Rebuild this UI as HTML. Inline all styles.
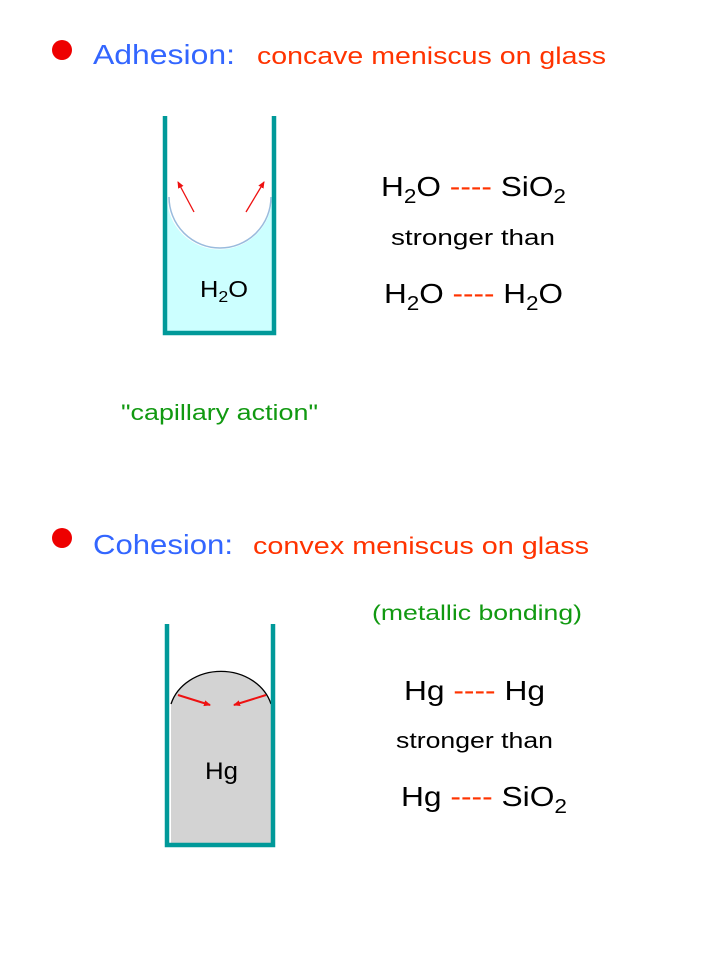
<!DOCTYPE html>
<html><head><meta charset="utf-8"><style>
html,body{margin:0;padding:0;background:#fff;}
svg{display:block;}
text{font-family:"Liberation Sans",sans-serif;}
</style></head><body>
<svg width="720" height="960" viewBox="0 0 720 960" xmlns="http://www.w3.org/2000/svg">
<defs>
<marker id="ar" markerWidth="8" markerHeight="8" refX="6" refY="3" orient="auto" markerUnits="userSpaceOnUse"><path d="M0,0 L7,3 L0,6 z" fill="#ee1111"/></marker>
</defs>
<circle cx="62" cy="50" r="10" fill="#ee0000"/>
<text x="93" y="64" font-size="28" fill="#3366ff" textLength="142" lengthAdjust="spacingAndGlyphs">Adhesion:</text>
<text x="257" y="64" font-size="24" fill="#ff3300" textLength="349" lengthAdjust="spacingAndGlyphs">concave meniscus on glass</text>
<path d="M167,197 A52,52 0 0 0 272,197 L272,331 L167,331 Z" fill="#ccffff"/>
<path d="M169,197 A51,51 0 0 0 271,197" fill="none" stroke="#99bbdd" stroke-width="1.5"/>
<path d="M165,116 L165,333 L274,333 L274,116" fill="none" stroke="#009999" stroke-width="4.5"/>
<line x1="194" y1="212" x2="178" y2="182" stroke="#ee1111" stroke-width="1.3" marker-end="url(#ar)"/>
<line x1="246" y1="212" x2="264" y2="182" stroke="#ee1111" stroke-width="1.3" marker-end="url(#ar)"/>
<text x="200" y="297" font-size="23" fill="#000" textLength="48" lengthAdjust="spacingAndGlyphs">H<tspan font-size="16" dy="5">2</tspan><tspan dy="-5">O</tspan></text>
<text x="381" y="196" font-size="28" fill="#000" textLength="185" lengthAdjust="spacingAndGlyphs">H<tspan font-size="20" dy="7">2</tspan><tspan dy="-7">O </tspan><tspan fill="#ff3300">----</tspan> SiO<tspan font-size="20" dy="7">2</tspan></text>
<text x="391" y="245" font-size="22" fill="#000" textLength="164" lengthAdjust="spacingAndGlyphs">stronger  than</text>
<text x="384" y="303" font-size="28" fill="#000" textLength="179" lengthAdjust="spacingAndGlyphs">H<tspan font-size="20" dy="7">2</tspan><tspan dy="-7">O </tspan><tspan fill="#ff3300">----</tspan> H<tspan font-size="20" dy="7">2</tspan><tspan dy="-7">O</tspan></text>
<text x="121" y="420" font-size="22" fill="#119911" textLength="197" lengthAdjust="spacingAndGlyphs">"capillary action"</text>
<circle cx="62" cy="538" r="10" fill="#ee0000"/>
<text x="93" y="554" font-size="28" fill="#3366ff" textLength="140" lengthAdjust="spacingAndGlyphs">Cohesion:</text>
<text x="253" y="554" font-size="24" fill="#ff3300" textLength="336" lengthAdjust="spacingAndGlyphs">convex meniscus on glass</text>
<text x="372" y="620" font-size="21" fill="#119911" textLength="210" lengthAdjust="spacingAndGlyphs">(metallic bonding)</text>
<path d="M171,704 A52,45 0 0 1 271,704 L271,845 L171,845 Z" fill="#d3d3d3"/>
<path d="M171,704 A52,45 0 0 1 271,704" fill="none" stroke="#000" stroke-width="1.3"/>
<path d="M167,624 L167,845 L273,845 L273,624" fill="none" stroke="#009999" stroke-width="4.5"/>
<line x1="178" y1="695" x2="210" y2="705" stroke="#ee1111" stroke-width="2" marker-end="url(#ar)"/>
<line x1="266" y1="695" x2="234" y2="705" stroke="#ee1111" stroke-width="2" marker-end="url(#ar)"/>
<text x="205" y="779" font-size="24" fill="#000" textLength="33" lengthAdjust="spacingAndGlyphs">Hg</text>
<text x="404" y="700" font-size="28" fill="#000" textLength="141" lengthAdjust="spacingAndGlyphs">Hg <tspan fill="#ff3300">----</tspan> Hg</text>
<text x="396" y="748" font-size="22" fill="#000" textLength="157" lengthAdjust="spacingAndGlyphs">stronger than</text>
<text x="401" y="806" font-size="28" fill="#000" textLength="166" lengthAdjust="spacingAndGlyphs">Hg <tspan fill="#ff3300">----</tspan> SiO<tspan font-size="20" dy="7">2</tspan></text>
</svg>
</body></html>
